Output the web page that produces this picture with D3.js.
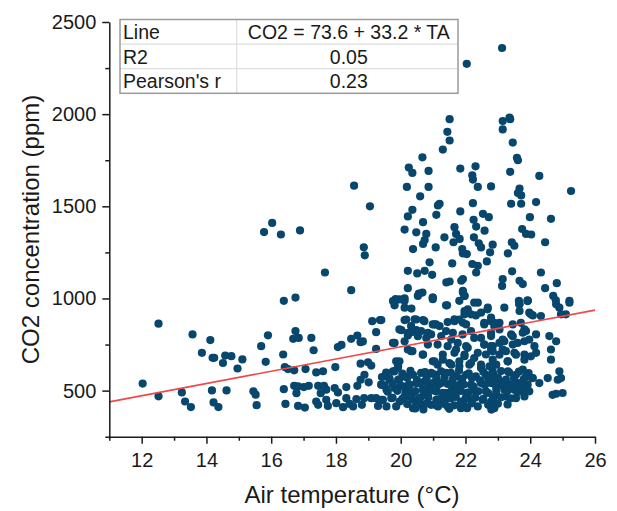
<!DOCTYPE html>
<html>
<head>
<meta charset="utf-8">
<script src="https://cdn.jsdelivr.net/npm/d3@7"></script>
<style>
  html, body { margin: 0; padding: 0; background: #fff; }
  svg { display: block; font-family: "Liberation Sans", Arial, sans-serif; }
</style>
</head>
<body>
<svg id="chart" width="617" height="511"></svg>
<script>
// Air temperature (°C) and CO2 concentration (ppm) observations, pairwise
const tempC = [
  12.52,12.03,12.52,13.57,14.12,13.86,14.19,14.24,14.51,14.58,14.77,15.11,14.96,15.69,15.9,15.83,13.24,13.34,13.52,14.17,14.22,14.37,14.62,15.45,15.52,15.55,
  18.56,19.05,16.03,15.78,16.3,16.89,18.86,18.89,17.66,
  16.39,16.75,18.47,16.75,16.68,16.85,17.24,17.31,16.37,16.42,16.52,16.71,17.06,17.39,17.6,17.98,18.06,18.17,18.47,18.66,18.76,18.83,19.12,19.36,19.24,19.24,18.76,18.99,19.09,19.42,16.39,16.71,16.83,17.01,17.16,16.78,16.44,16.83,17.04,17.45,17.63,17.7,17.53,17.96,18.06,18.32,17.39,17.45,17.7,17.75,18.01,18.22,18.32,18.42,18.53,18.66,18.76,18.88,19.01,18.87,19.09,19.24,19.4,19.3,18.8,18.63,19.4,
  19.81,20.12,20.33,20.99,19.4,20.12,20.43,20.69,20.99,20.02,20.33,20.48,20.22,20.63,20.79,20.94,19.81,20.22,20.36,20.69,20.99,19.86,19.92,19.76,19.5,19.4,19.66,19.92,20.12,20.38,20.63,20.94,19.56,19.81,20.07,20.28,20.48,20.74,20.99,20.69,20.89,21.1,20.38,20.12,19.71,19.45,19.97,19.56,19.86,20.38,20.58,20.84,21.1,20.38,20.69,20.94,21.15,20.58,20.22,
  21.43,21.81,22.07,22.38,22.68,21.97,22.32,22.79,21.09,21.45,21.66,22.02,22.58,21.25,21.61,21.91,22.17,22.48,22.79,21.14,21.45,21.76,22.07,22.58,22.84,21.3,21.66,21.97,22.27,22.63,22.84,21.14,21.5,21.81,22.12,22.48,22.74,21.09,21.4,21.71,22.02,22.32,22.63,21.25,21.55,21.86,22.17,22.48,22.79,21.09,21.4,21.71,22.02,22.32,22.63,21.25,21.55,21.86,22.17,22.53,22.79,21.45,21.86,22.38,
  23.2,23.67,23.67,23.92,23.97,24.08,24.33,24.8,24.9,25.21,25.1,24.95,22.79,22.89,23.05,23.46,23.82,23.77,23.41,24.18,24.59,24.8,23.2,23.05,23.46,23.82,22.79,24.13,24.18,24.64,24.64,22.84,23.15,23.51,23.82,23.31,22.95,22.84,23.31,23.56,23.77,23.87,24.08,24.28,24.54,24.9,24.95,24.85,22.79,23.05,23.36,23.67,23.92,22.95,23.2,23.51,23.77,23.97,24.69,24.8,25.0,22.89,23.25,23.56,23.82,22.89,22.79,
  20.25,20.36,20.86,21.84,22.31,22.21,22.23,22.38,22.79,23.38,24.28,25.26,20.19,20.86,20.6,21.2,21.15,20.36,20.22,21.1,21.84,22.23,22.54,22.72,23.67,23.62,23.72,23.41,23.72,24.18,23.99,24.64,20.12,20.48,20.69,20.79,20.69,20.74,20.38,21.08,21.35,21.66,21.71,21.63,21.82,21.9,21.92,22.04,22.25,22.33,22.26,22.41,22.48,22.59,22.84,22.76,23.43,23.51,23.31,23.75,23.87,24.03,24.46,20.22,20.51,20.74,20.97,20.89,21.59,21.87,21.92,21.97,22.21,22.33,22.38,22.66,21.41,21.51,21.92,23.44,23.15,23.13,23.67,23.77,24.33,24.46,24.82,24.71,20.22,20.56,20.67,20.99,19.84,20.12,25.21,24.79,23.92,23.65,
  23.13,22.04,21.51,21.44,21.51,21.3,20.67,23.15,23.36,23.38,23.15,23.46,23.59,23.62,
  19.76,19.96,20.12,20.53,20.99,21.4,21.92,21.97,22.27,22.17,22.48,22.69,22.89,21.97,21.92,23.66,23.92,24.02,23.71,23.87,
  20.17,20.48,20.73,20.32,19.96,20.22,20.53,20.84,21.04,21.2,21.4,21.66,21.81,22.58,22.79,23.05,23.15,23.46,23.61,23.97,
  19.76,20.12,20.32,20.68,20.84,21.56,21.71,22.02,22.27,21.97,22.38,22.58,22.79,23.05,23.25,23.3,23.56,23.82,24.02,
  19.96,19.91,21.04,21.3,21.56,21.81,22.17,22.48,22.79,
  19.55,19.8,20.05,20.3,20.75,21.0,21.25,21.55,21.8,22.1,22.55,22.85,23.1,23.35,23.65,23.95,
  19.65,19.95,20.2,20.5,20.8,21.1,21.35,21.6,21.9,22.2,22.45,22.7,23.0,23.25,23.5,23.8,24.05,
  19.5,19.75,20.0,20.25,20.6,20.85,21.15,21.45,21.7,21.95,22.25,22.6,22.9,23.15,23.45,23.7,
  19.6,19.9,20.15,20.45,20.7,20.95,21.3,21.55,21.85,22.1,22.4,22.7,22.95,23.3,23.6,23.9,
  19.75,20.05,20.3,20.6,20.85,21.2,21.45,21.7,22.0,22.3,22.55,22.85,23.1,23.4,
  20.2,20.5,20.8,21.05,21.35,21.65,21.95,22.2,22.7,23.0,23.3,
  20.45,20.7,21.5,22.05,22.8
];
const co2ppm = [
  863,538,469,805,774,705,678,678,650,690,687,669,620,741,800,656,490,441,411,501,436,411,501,496,478,421,
  1612,1500,1410,1360,1347,1369,1278,1234,1141,
  987,1005,1045,823,781,786,786,719,696,628,617,610,617,599,605,628,736,748,781,799,763,767,877,883,817,726,646,654,636,574,508,526,523,519,526,486,428,417,408,526,526,505,486,514,490,519,441,423,450,417,432,410,459,428,414,526,559,586,545,459,459,459,450,417,423,454,532,
  963,987,945,996,883,883,887,883,859,828,817,828,799,823,786,805,759,723,714,696,659,659,632,605,577,532,559,559,577,586,596,596,505,514,523,532,541,550,541,505,505,496,487,468,459,450,441,414,414,450,459,468,450,405,414,423,414,432,514,
  963,987,941,977,941,914,908,896,859,872,887,859,859,796,814,805,823,786,796,750,741,759,732,750,741,696,705,687,677,696,668,641,650,632,641,623,632,586,596,577,586,577,586,541,532,541,532,541,541,496,487,505,487,496,496,450,459,441,450,450,441,414,405,414,
  950,968,932,987,923,908,905,968,950,977,914,914,877,850,868,859,832,814,805,805,796,768,768,759,750,768,741,741,705,723,668,714,723,705,696,659,641,605,605,586,614,577,568,541,568,605,568,559,559,550,532,541,532,514,505,505,496,496,477,483,487,468,468,459,468,405,414,
  1710,1681,1692,1705,1717,1668,1645,1605,1608,1687,1665,1583,1605,1605,1554,1514,1505,1481,1445,1454,1472,1517,1459,1441,1596,1572,1559,1514,1514,1523,1441,1432,1374,1359,1414,1350,1296,1317,1268,1277,1332,1387,1350,1305,1323,1268,1245,1241,1427,1390,1332,1299,1277,1368,1292,1250,1305,1286,1245,1377,1350,1347,1305,1150,1136,1150,1128,1196,1190,1096,1041,1014,1187,1141,1177,1201,1087,1092,1105,1147,1105,1068,1096,1078,1141,1056,1083,1014,1056,1027,1032,1005,996,1001,987,990,990,987,
  2359,2273,1973,1904,1857,1808,1766,1963,1981,1973,1917,1846,1763,1750,
  986,995,950,1014,1005,963,1032,1014,977,914,923,950,868,932,868,968,986,914,868,823,
  886,886,877,850,832,814,795,814,859,850,823,877,886,868,814,832,777,795,759,777,
  759,768,714,695,750,777,723,741,786,695,705,750,723,695,714,659,695,668,686,
  659,623,659,668,641,659,650,641,632,
  598,604,593,607,600,590,605,597,609,594,602,591,606,598,603,595,
  566,561,570,558,567,563,572,559,565,569,556,564,571,560,566,562,568,
  529,535,526,532,538,524,531,536,527,533,522,530,537,528,534,525,
  494,499,489,497,492,501,488,495,498,490,496,487,493,500,491,497,
  461,456,465,458,463,454,460,466,457,462,455,459,464,458,
  427,422,430,424,428,420,426,431,423,429,425,
  403,398,401,405,397
];

// Axis tick values
const xMajorTicks = [12, 14, 16, 18, 20, 22, 24, 26];
const xMinorTicks = [11, 13, 15, 17, 19, 21, 23, 25];
const yMajorTicks = [500, 1000, 1500, 2000, 2500];
const yMinorTicks = [250, 750, 1250, 1750, 2250];

// Linear fit reported in the table
const fitIntercept = 73.6;
const fitSlope = 33.2;
const fitRange = [11, 26];
const tableRows = [
  ["Line", "CO2 = 73.6 + 33.2 * TA"],
  ["R2", "0.05"],
  ["Pearson's r", "0.23"]
];

const points = tempC.map((t, i) => ({ t, c: co2ppm[i] }));

const svg = d3.select("#chart");
const x = d3.scaleLinear().domain([11, 26]).range([109.3, 595]);
const y = d3.scaleLinear().domain([250, 2500]).range([436.7, 22]);

const axisColor = "#1a1a1a";

// scatter points
svg.append("g")
  .selectAll("circle")
  .data(points)
  .join("circle")
  .attr("cx", d => x(d.t))
  .attr("cy", d => y(d.c))
  .attr("r", 4.1)
  .attr("fill", "#07466d");

// regression line
svg.append("line")
  .attr("x1", x(fitRange[0]))
  .attr("y1", y(fitIntercept + fitSlope * fitRange[0]))
  .attr("x2", x(fitRange[1]))
  .attr("y2", y(fitIntercept + fitSlope * fitRange[1]))
  .attr("stroke", "#f04848")
  .attr("stroke-width", 1.6);

// x axis
const xAxisG = svg.append("g").attr("transform", `translate(0,${y(250)})`);
xAxisG.append("g")
  .call(d3.axisBottom(x).tickValues(xMinorTicks).tickSize(4).tickSizeOuter(0).tickFormat(""))
  .call(g => g.select(".domain").remove());
xAxisG.append("g")
  .call(d3.axisBottom(x).tickValues(xMajorTicks).tickSize(7).tickSizeOuter(0).tickPadding(9).tickFormat(d3.format("d")));

// y axis
const yAxisG = svg.append("g").attr("transform", `translate(${x(11)},0)`);
yAxisG.append("g")
  .call(d3.axisLeft(y).tickValues(yMinorTicks).tickSize(4).tickSizeOuter(0).tickFormat(""))
  .call(g => g.select(".domain").remove());
yAxisG.append("g")
  .call(d3.axisLeft(y).tickValues(yMajorTicks).tickSize(7).tickSizeOuter(0).tickPadding(6).tickFormat(d3.format("d")));

svg.selectAll(".domain, .tick line")
  .attr("stroke", axisColor)
  .attr("stroke-width", 1.5);
svg.selectAll(".tick text")
  .attr("fill", axisColor)
  .style("font-size", "20px")
  .style("font-family", "'Liberation Sans', Arial, sans-serif");

// axis titles
svg.append("text")
  .attr("x", 352)
  .attr("y", 503)
  .attr("text-anchor", "middle")
  .attr("fill", axisColor)
  .style("font-size", "24px")
  .text("Air temperature (°C)");

svg.append("text")
  .attr("transform", "translate(39,229.5) rotate(-90)")
  .attr("text-anchor", "middle")
  .attr("fill", axisColor)
  .style("font-size", "24px")
  .text("CO2 concentration (ppm)");

// fit statistics table
const tbl = { left: 120, right: 458, top: 19.5, rowH: 24.6, split: 236.7 };
const tg = svg.append("g");
tg.append("rect")
  .attr("x", tbl.left).attr("y", tbl.top)
  .attr("width", tbl.right - tbl.left).attr("height", tbl.rowH * tableRows.length)
  .attr("fill", "#fff");
for (let i = 1; i < tableRows.length; i++) {
  tg.append("line")
    .attr("x1", tbl.left).attr("x2", tbl.right)
    .attr("y1", tbl.top + i * tbl.rowH).attr("y2", tbl.top + i * tbl.rowH)
    .attr("stroke", "#dedede").attr("stroke-width", 1.2);
}
tg.append("line")
  .attr("x1", tbl.split).attr("x2", tbl.split)
  .attr("y1", tbl.top).attr("y2", tbl.top + tbl.rowH * tableRows.length)
  .attr("stroke", "#dedede").attr("stroke-width", 1.2);
tg.append("rect")
  .attr("x", tbl.left).attr("y", tbl.top)
  .attr("width", tbl.right - tbl.left).attr("height", tbl.rowH * tableRows.length)
  .attr("fill", "none").attr("stroke", "#9a9a9a").attr("stroke-width", 1.5);
tableRows.forEach((row, i) => {
  const base = tbl.top + i * tbl.rowH + 19.5;
  tg.append("text")
    .attr("x", tbl.left + 3).attr("y", base)
    .attr("fill", axisColor).style("font-size", "19.5px")
    .text(row[0]);
  tg.append("text")
    .attr("x", (tbl.split + tbl.right) / 2 + 1.5).attr("y", base)
    .attr("text-anchor", "middle")
    .attr("fill", axisColor).style("font-size", "19.5px")
    .text(row[1]);
});
</script>
</body>
</html>
